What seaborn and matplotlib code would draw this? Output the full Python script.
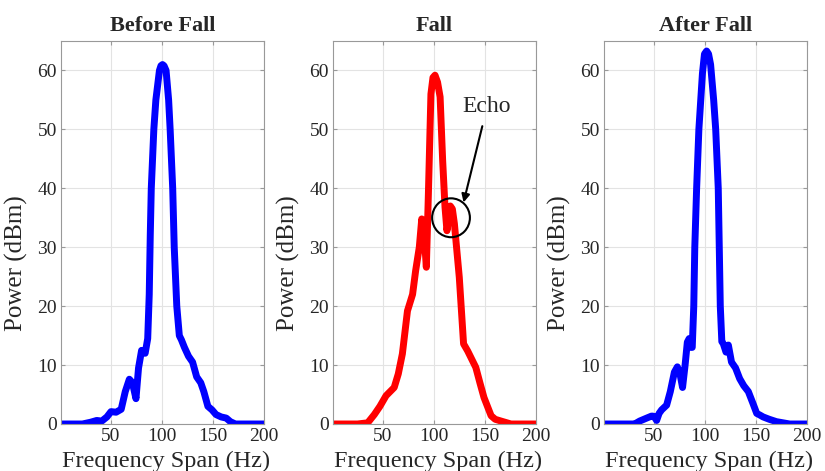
import numpy as np
import pandas as pd
import seaborn as sns
import matplotlib.pyplot as plt
from matplotlib.patches import Ellipse

# spectra (Hz, dBm)
before_hz = [1, 22, 30, 36, 41, 46, 50, 55, 60, 64, 68, 71, 74.5, 77, 80, 83.5, 86, 87.5, 88.5, 89.5,
             92, 94, 97.5, 99, 100.5, 102, 104, 106.5, 108, 110.5, 112, 114.5, 117, 119, 122, 126, 130, 134,
             138, 141, 145, 149, 153, 158, 163, 167, 172, 200]
before_dbm = [0, 0, 0.3, 0.6, 0.5, 1.2, 2.1, 2.0, 2.5, 5.5, 7.6, 7.0, 4.3, 9.5, 12.5, 12.0, 14.5, 22, 32, 40,
              50, 55, 60, 60.8, 61, 60.8, 60, 55, 50, 40, 30, 20, 15, 14.3, 13, 11.5, 10.5, 8,
              7, 5.5, 3, 2.4, 1.6, 1.2, 1.0, 0.4, 0, 0]

fall_hz = [1, 25, 35, 41.5, 47, 53, 61, 65, 69, 74, 79, 82, 85.6, 88, 90, 92.5, 94.5, 97, 99, 101,
           103.5, 106, 108.5, 110.8, 112.7, 114.5, 116, 118, 120, 124.8, 129, 133, 137, 141, 145, 149,
           156, 160, 165.7, 175.5, 200]
fall_dbm = [0, 0, 0.2, 1.6, 3, 4.8, 6.2, 8.5, 11.9, 19.2, 22, 26, 30, 34.8, 33, 26.6, 39, 56, 58.8, 59.2,
            58, 55.5, 44.7, 36.8, 32.8, 35, 37, 36.5, 34, 24.9, 13.6, 12.4, 11, 9.6, 7, 4.5,
            1.4, 0.8, 0.5, 0, 0]

after_hz = [1, 28, 31, 36, 42.8, 47.7, 50, 52.6, 55, 57.5, 62.4, 66, 70, 72.9, 75.5, 78, 80.5, 82.7, 84.5, 86,
            87.5, 89, 90, 91.8, 94, 97.5, 99.5, 101.6, 103.5, 105.5, 108.5, 110.5, 113, 115, 116.5, 118, 120.6,
            122.9, 126, 130, 134, 138, 142.5, 147, 150.7, 154, 157, 163, 170, 183, 200]
after_dbm = [0, 0, 0, 0.5, 1.0, 1.35, 1.3, 0.6, 1.8, 2.4, 3.2, 5.5, 8.8, 9.7, 8.5, 6.2, 10, 13.9, 14.5, 13,
             13, 20, 30, 40, 50, 59.5, 62.8, 63.3, 62.8, 61, 55, 50, 40, 20, 14, 13.6, 12.2,
             13.4, 10.5, 9.5, 7.7, 6.5, 5.5, 3.5, 1.8, 1.5, 1.2, 0.8, 0.4, 0, 0]

titles = ['Before Fall', 'Fall', 'After Fall']
colors = ['#0000ff', '#ff0000', '#0000ff']
xticks = [50, 100, 150, 200]
yticks = [0, 10, 20, 30, 40, 50, 60]

sns.set_theme(style='ticks')
plt.rcParams['font.family'] = ['Liberation Serif', 'DejaVu Serif']

fig = plt.figure(figsize=(8.25, 4.71), dpi=100)
lefts = [61, 333, 604]

panels = [(before_hz, before_dbm), (fall_hz, fall_dbm), (after_hz, after_dbm)]
for i, (hz, dbm) in enumerate(panels):
    ax = fig.add_axes([lefts[i] / 825, 47 / 471, 203 / 825, 383 / 471])
    df = pd.DataFrame({'hz': hz, 'dbm': dbm})
    sns.lineplot(data=df, x='hz', y='dbm', ax=ax, color=colors[i], linewidth=5, sort=False,
                 solid_capstyle='round', solid_joinstyle='round')
    ax.set_xlim(1, 200)
    ax.set_ylim(0, 65)
    ax.set_xticks(xticks)
    ax.set_yticks(yticks)
    ax.grid(True, color='#e3e3e3', linewidth=0.8)
    ax.set_axisbelow(True)
    for s in ax.spines.values():
        s.set_color('#999999')
        s.set_linewidth(0.8)
    ax.tick_params(direction='in', length=3, width=0.8, color='#999999', labelsize=14,
                   labelcolor='#262626', top=True, right=True, pad=3)
    ax.set_title(titles[i], fontsize=16, fontweight='bold', pad=7)
    ax.set_xlabel('Frequency Span (Hz)', fontsize=17.5, color='#262626')
    ax.set_ylabel('Power (dBm)', fontsize=18, color='#262626')
    ax.xaxis.set_label_coords(0.52, -0.07)
    ax.yaxis.set_label_coords(-0.165, 0.42)

    if i == 1:
        ax.add_patch(Ellipse((116.7, 35), 37, 6.6, fill=False, edgecolor='black', linewidth=1.5, zorder=5))
        ax.annotate('Echo', xy=(129, 37.6), xytext=(152, 53.8), ha='center', va='center',
                    fontsize=17, color='#262626',
                    arrowprops=dict(arrowstyle='-|>', color='black', lw=1.5, mutation_scale=12,
                                    shrinkA=4, shrinkB=0))

fig.savefig('out.png', dpi=100)
